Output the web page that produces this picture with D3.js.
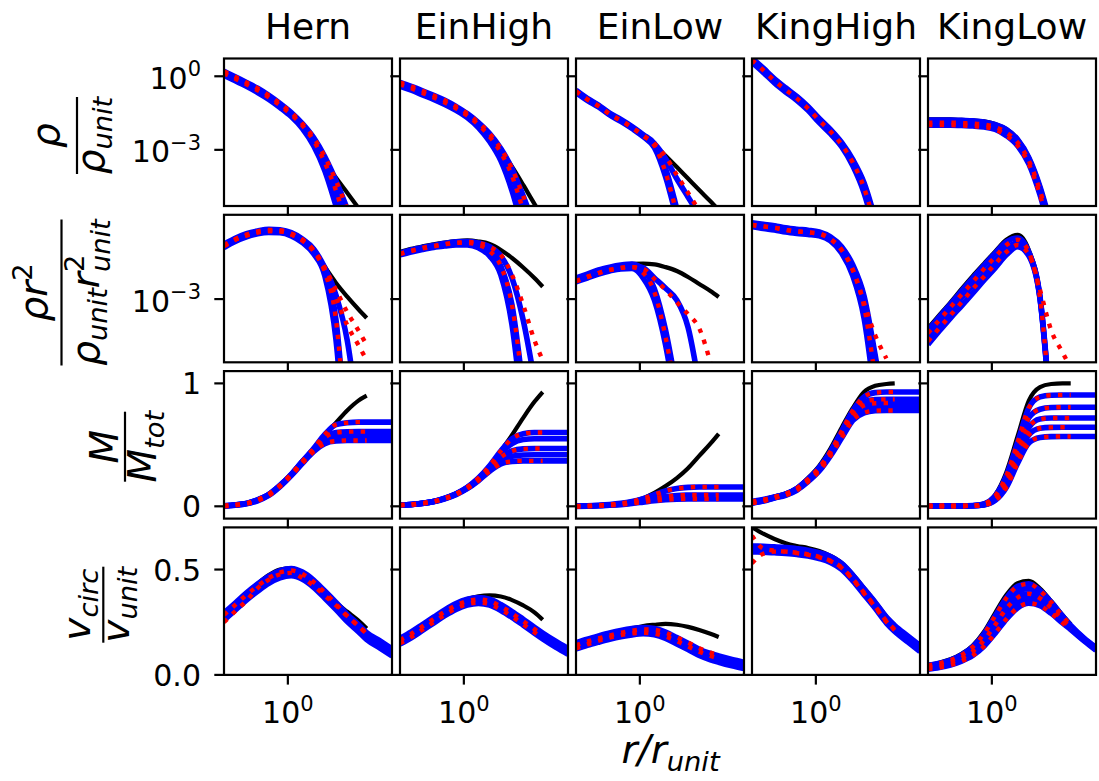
<!DOCTYPE html>
<html><head><meta charset="utf-8">
<script src="https://cdn.jsdelivr.net/npm/d3@7"></script>
<style>body{margin:0;background:#fff;} text{font-family:"DejaVu Sans",sans-serif;fill:#000;}</style>
</head><body><svg id="c" width="1099" height="781"></svg>
<script>
// ---------- data ----------
const rGrid = [0.269,0.339,0.427,0.537,0.676,0.851,1.072,1.349,1.698,2.138,2.692,3.388,4.266,5.06,6.65,8.51];
const columns = ["Hern","EinHigh","EinLow","KingHigh","KingLow"];
const xTickValues = [1];
const xTickExp = ["0"];

// Row 1: log10(rho/rho_unit)
const rhoHern = {
 black:[0.16,-0.06,-0.29,-0.53,-0.82,-1.15,-1.52,-1.97,-2.58,-3.48,-4.14,-4.75,-5.37,-5.82],
 blue:[[0.2,-0.02,-0.25,-0.49,-0.78,-1.11,-1.48,-1.93,-2.5,-3.28,-4.26,-5.41,-6.72],
       [0.12,-0.1,-0.33,-0.57,-0.86,-1.19,-1.56,-2.01,-2.62,-3.52,-4.67,-6.23],
       [0.04,-0.18,-0.41,-0.66,-0.94,-1.27,-1.64,-2.13,-2.83,-3.85,-5.29,-6.93]],
 red:[[0.12,-0.1,-0.33,-0.57,-0.86,-1.19,-1.56,-2.01,-2.62,-3.52,-4.67,-6.23],
      [0.2,-0.02,-0.25,-0.49,-0.78,-1.11,-1.48,-1.93,-2.5,-3.28,-4.26,-5.41,-6.72]]};
const rhoEinHigh = {
 black:[-0.29,-0.45,-0.64,-0.82,-1.02,-1.27,-1.56,-1.93,-2.42,-3.03,-3.69,-4.43,-5.2,-5.74],
 blue:[[-0.25,-0.41,-0.59,-0.78,-0.98,-1.23,-1.52,-1.89,-2.34,-2.95,-3.77,-4.88,-6.11],
       [-0.33,-0.49,-0.68,-0.86,-1.07,-1.31,-1.6,-1.97,-2.46,-3.11,-4.06,-5.49],
       [-0.41,-0.57,-0.76,-0.94,-1.15,-1.39,-1.68,-2.09,-2.66,-3.44,-4.67,-6.31]],
 red:[[-0.33,-0.49,-0.68,-0.86,-1.07,-1.31,-1.6,-1.97,-2.46,-3.11,-4.06,-5.49],
      [-0.25,-0.41,-0.59,-0.78,-0.98,-1.23,-1.52,-1.89,-2.34,-2.95,-3.77,-4.88,-6.11]]};
const rhoEinLow = {
 black:[-0.57,-0.9,-1.17,-1.5,-1.76,-2.05,-2.38,-2.8,-3.24,-3.7,-4.17,-4.64,-5.1,-5.45],
 blue:[[-0.57,-0.9,-1.17,-1.5,-1.76,-2.05,-2.38,-2.75,-3.77,-5.41],
       [-0.66,-0.98,-1.25,-1.58,-1.84,-2.13,-2.46,-2.91,-4.1,-5.82],
       [-0.61,-0.94,-1.21,-1.54,-1.8,-2.09,-2.42,-2.75,-3.36,-4.18,-4.92,-5.66]],
 red:[[-0.61,-0.94,-1.21,-1.54,-1.8,-2.09,-2.42,-2.83,-3.93,-5.62],
      [-0.61,-0.94,-1.21,-1.54,-1.8,-2.09,-2.42,-2.75,-3.28,-4.02,-4.75,-5.49]]};
const rhoKingHigh = {
 black:[0.74,0.33,-0.1,-0.47,-0.82,-1.23,-1.72,-2.17,-2.7,-3.4,-4.34,-5.82],
 blue:[[0.74,0.33,-0.1,-0.47,-0.82,-1.23,-1.72,-2.17,-2.7,-3.4,-4.34,-5.82],
       [0.66,0.25,-0.18,-0.55,-0.9,-1.31,-1.8,-2.25,-2.79,-3.52,-4.55,-6.11],
       [0.57,0.16,-0.27,-0.64,-0.98,-1.39,-1.89,-2.34,-2.87,-3.65,-4.75,-6.39]],
 red:[[0.66,0.25,-0.18,-0.55,-0.9,-1.31,-1.8,-2.25,-2.79,-3.52,-4.55,-6.11]]};
const rhoKingLow = {
 black:[-1.76,-1.76,-1.76,-1.78,-1.8,-1.84,-1.95,-2.15,-2.56,-3.3,-4.49,-6.1],
 blue:[[-1.78,-1.78,-1.78,-1.8,-1.82,-1.86,-1.97,-2.17,-2.58,-3.32,-4.51,-6.11],
       [-1.89,-1.89,-1.89,-1.91,-1.93,-1.97,-2.07,-2.3,-2.7,-3.44,-4.67,-6.31],
       [-1.99,-1.99,-1.99,-2.01,-2.03,-2.07,-2.17,-2.42,-2.83,-3.57,-4.84,-6.52]],
 red:[[-1.89,-1.89,-1.89,-1.91,-1.93,-1.97,-2.07,-2.3,-2.7,-3.44,-4.67,-6.31],
      [-1.99,-1.99,-1.99,-2.01,-2.03,-2.07,-2.17,-2.42,-2.83,-3.57,-4.84,-6.52]]};

// Row 2: log10(rho r^2 / rho_unit r_unit^2)
const rrHern = {
 black:[-1.44,-1.27,-1.14,-1.06,-1.01,-1.03,-1.11,-1.29,-1.57,-2.08,-2.54,-2.93,-3.29,-3.54],
 blue:[[-1.44,-1.27,-1.14,-1.06,-1.01,-1.03,-1.11,-1.29,-1.57,-2.11,-2.89,-4.17,-6.46],
       [-1.49,-1.31,-1.19,-1.1,-1.06,-1.07,-1.16,-1.33,-1.63,-2.23,-3.6,-7.31],
       [-1.53,-1.36,-1.23,-1.14,-1.1,-1.11,-1.2,-1.39,-1.71,-2.34,-4.17,-8.17]],
 red:[[-1.49,-1.31,-1.19,-1.1,-1.06,-1.07,-1.16,-1.33,-1.63,-2.23,-3.6,-7.31],
      [-1.46,-1.29,-1.16,-1.07,-1.03,-1.04,-1.13,-1.3,-1.6,-2.11,-2.74,-3.37,-3.89,-4.31],
      [-1.49,-1.31,-1.19,-1.1,-1.06,-1.07,-1.16,-1.33,-1.63,-2.17,-2.97,-3.74,-4.31,-4.74]]};
const rrEinHigh = {
 black:[-1.66,-1.57,-1.5,-1.44,-1.39,-1.35,-1.33,-1.36,-1.43,-1.6,-1.83,-2.1,-2.4,-2.65],
 blue:[[-1.69,-1.6,-1.53,-1.47,-1.41,-1.37,-1.36,-1.4,-1.51,-1.77,-2.4,-3.6,-5.31],
       [-1.71,-1.63,-1.56,-1.5,-1.44,-1.4,-1.4,-1.46,-1.63,-2.06,-3.17,-5.6],
       [-1.74,-1.66,-1.59,-1.53,-1.49,-1.46,-1.46,-1.54,-1.77,-2.31,-3.74,-6.46]],
 red:[[-1.71,-1.63,-1.56,-1.5,-1.44,-1.4,-1.4,-1.46,-1.63,-2.06,-3.17,-5.6],
      [-1.71,-1.63,-1.54,-1.49,-1.43,-1.4,-1.37,-1.4,-1.51,-1.74,-2.31,-3.17,-4.17,-4.74]]};
const rrEinLow = {
 black:[-2.43,-2.31,-2.2,-2.11,-2.04,-2.0,-1.99,-2.01,-2.09,-2.2,-2.37,-2.57,-2.77,-2.94],
 blue:[[-2.4,-2.29,-2.17,-2.09,-2.03,-2.0,-2.17,-2.71,-3.89,-5.6],
       [-2.51,-2.4,-2.29,-2.2,-2.14,-2.13,-2.4,-3.03,-4.31,-6.17],
       [-2.46,-2.34,-2.23,-2.14,-2.09,-2.04,-2.11,-2.4,-2.69,-3.03,-3.8,-5.46]],
 red:[[-2.49,-2.37,-2.26,-2.17,-2.11,-2.09,-2.26,-2.8,-4.09,-5.89],
      [-2.49,-2.37,-2.26,-2.17,-2.11,-2.09,-2.14,-2.43,-2.74,-3.09,-3.43,-3.83,-4.8]]};
const rrKingHigh = {
 black:[-0.83,-0.87,-0.91,-0.97,-1.01,-1.04,-1.09,-1.23,-1.51,-2.03,-2.91,-4.6,-6.46],
 blue:[[-0.83,-0.87,-0.91,-0.97,-1.01,-1.04,-1.09,-1.23,-1.51,-2.03,-2.91,-4.6,-6.46],
       [-0.89,-0.93,-0.97,-1.03,-1.07,-1.1,-1.14,-1.29,-1.6,-2.17,-3.2,-5.26],
       [-0.94,-0.99,-1.03,-1.09,-1.13,-1.16,-1.2,-1.34,-1.69,-2.34,-3.54,-5.89]],
 red:[[-0.89,-0.93,-0.97,-1.03,-1.07,-1.1,-1.14,-1.29,-1.6,-2.17,-3.2,-5.26],
      [-0.89,-0.93,-0.97,-1.03,-1.07,-1.1,-1.14,-1.29,-1.6,-2.17,-3.11,-4.03,-4.69]]};
const rrKingLow = {
 black:[-3.83,-3.46,-3.09,-2.71,-2.34,-1.99,-1.64,-1.31,-1.17,-1.6,-2.89,-6.46],
 blue:[[-3.89,-3.51,-3.14,-2.77,-2.4,-2.04,-1.69,-1.37,-1.26,-1.66,-2.94,-6.46],
       [-4.09,-3.71,-3.34,-2.97,-2.61,-2.26,-1.9,-1.56,-1.39,-1.71,-2.97,-6.51],
       [-4.29,-3.91,-3.54,-3.19,-2.83,-2.46,-2.11,-1.74,-1.51,-1.77,-3.0,-6.6]],
 red:[[-3.97,-3.6,-3.23,-2.87,-2.51,-2.14,-1.8,-1.46,-1.31,-1.66,-2.74,-3.89,-4.51,-4.97],
      [-4.2,-3.83,-3.46,-3.09,-2.71,-2.36,-2.0,-1.66,-1.46,-1.74,-2.97,-6.57]]};

// Row 3: M / M_tot
const mHern = {
 black:[0.004,0.012,0.024,0.053,0.097,0.17,0.26,0.365,0.47,0.585,0.68,0.78,0.86,0.9],
 blue:[[0.004,0.012,0.024,0.053,0.097,0.17,0.26,0.365,0.47,0.585,0.665,0.68,0.685,0.685,0.685,0.685],
       [0.004,0.012,0.024,0.053,0.097,0.17,0.26,0.365,0.462,0.56,0.6,0.607,0.608,0.608,0.608,0.608],
       [0.002,0.01,0.022,0.05,0.093,0.165,0.255,0.36,0.458,0.535,0.562,0.567,0.568,0.568,0.568,0.568],
       [0.0,0.008,0.02,0.045,0.088,0.16,0.25,0.35,0.445,0.51,0.531,0.535,0.535,0.535,0.535,0.535]],
 red:[[0.004,0.012,0.024,0.053,0.097,0.17,0.26,0.365,0.47,0.585,0.665,0.68,0.685,0.685],
      [0.004,0.012,0.024,0.053,0.097,0.17,0.26,0.365,0.462,0.56,0.6,0.607,0.608,0.608],
      [0.0,0.008,0.02,0.045,0.088,0.16,0.25,0.35,0.445,0.51,0.531,0.535,0.535,0.535]]};
const mEinHigh = {
 black:[0.01,0.015,0.025,0.04,0.066,0.102,0.155,0.23,0.33,0.45,0.58,0.72,0.85,0.93],
 blue:[[0.01,0.015,0.025,0.04,0.066,0.102,0.155,0.23,0.33,0.45,0.55,0.59,0.6,0.6,0.6,0.6],
       [0.01,0.015,0.025,0.04,0.065,0.1,0.152,0.225,0.32,0.43,0.51,0.543,0.55,0.55,0.55,0.55],
       [0.01,0.015,0.025,0.04,0.065,0.1,0.15,0.22,0.31,0.4,0.45,0.467,0.47,0.47,0.47,0.47],
       [0.01,0.015,0.024,0.039,0.063,0.098,0.147,0.215,0.3,0.375,0.408,0.418,0.42,0.42,0.42,0.42],
       [0.009,0.014,0.023,0.037,0.061,0.095,0.143,0.208,0.285,0.345,0.365,0.37,0.37,0.37,0.37,0.37]],
 red:[[0.01,0.015,0.025,0.04,0.066,0.102,0.155,0.23,0.33,0.45,0.55,0.59,0.6,0.6],
      [0.01,0.015,0.025,0.04,0.065,0.1,0.15,0.22,0.31,0.4,0.45,0.467,0.47,0.47],
      [0.009,0.014,0.023,0.037,0.061,0.095,0.143,0.208,0.285,0.345,0.365,0.37,0.37,0.37]]};
const mEinLow = {
 black:[0.002,0.004,0.008,0.014,0.024,0.04,0.065,0.11,0.165,0.23,0.31,0.41,0.51,0.59],
 blue:[[0.002,0.004,0.008,0.014,0.024,0.04,0.063,0.095,0.125,0.145,0.154,0.157,0.157,0.157,0.157,0.157],
       [0.0,0.002,0.006,0.011,0.019,0.031,0.047,0.065,0.079,0.088,0.091,0.092,0.092,0.092,0.092,0.092],
       [0.0,0.002,0.005,0.01,0.017,0.027,0.041,0.055,0.066,0.072,0.075,0.075,0.075,0.075,0.075,0.075],
       [-0.002,0.0,0.004,0.008,0.014,0.023,0.034,0.045,0.053,0.058,0.06,0.06,0.06,0.06,0.06,0.06]],
 red:[[0.002,0.004,0.008,0.014,0.024,0.04,0.063,0.095,0.125,0.145,0.154,0.157,0.157,0.157],
      [0.0,0.002,0.006,0.011,0.019,0.031,0.047,0.065,0.079,0.088,0.091,0.092,0.092,0.092],
      [-0.002,0.0,0.004,0.008,0.014,0.023,0.034,0.045,0.053,0.058,0.06,0.06,0.06,0.06]]};
const mKingHigh = {
 black:[0.03,0.055,0.08,0.105,0.15,0.23,0.33,0.47,0.64,0.8,0.93,0.98,0.995,1.0],
 blue:[[0.04,0.055,0.075,0.1,0.145,0.22,0.315,0.445,0.61,0.78,0.89,0.925,0.93,0.93,0.93,0.93],
       [0.035,0.05,0.075,0.1,0.145,0.22,0.31,0.44,0.6,0.76,0.85,0.868,0.87,0.87,0.87,0.87],
       [0.03,0.047,0.072,0.097,0.14,0.213,0.302,0.43,0.585,0.74,0.82,0.838,0.84,0.84,0.84,0.84],
       [0.028,0.045,0.07,0.094,0.136,0.207,0.295,0.42,0.57,0.72,0.79,0.808,0.81,0.81,0.81,0.81],
       [0.025,0.042,0.067,0.09,0.13,0.2,0.287,0.41,0.555,0.7,0.76,0.778,0.78,0.78,0.78,0.78]],
 red:[[0.04,0.055,0.075,0.1,0.145,0.22,0.315,0.445,0.61,0.78,0.89,0.925,0.93,0.93],
      [0.035,0.05,0.075,0.1,0.145,0.22,0.31,0.44,0.6,0.76,0.85,0.868,0.87,0.87],
      [0.03,0.047,0.072,0.097,0.14,0.213,0.302,0.43,0.585,0.74,0.82,0.838,0.84,0.84],
      [0.025,0.042,0.067,0.09,0.13,0.2,0.287,0.41,0.555,0.7,0.76,0.778,0.78,0.78]]};
const mKingLow = {
 black:[0.003,0.003,0.003,0.003,0.007,0.023,0.095,0.28,0.57,0.86,0.97,0.995,1.0,1.0],
 blue:[[0.003,0.003,0.003,0.003,0.006,0.02,0.085,0.25,0.52,0.8,0.89,0.904,0.906,0.906,0.906,0.906],
       [0.003,0.003,0.003,0.003,0.005,0.017,0.072,0.22,0.47,0.72,0.79,0.804,0.806,0.806,0.806,0.806],
       [0.003,0.003,0.003,0.003,0.005,0.015,0.062,0.195,0.425,0.64,0.71,0.718,0.719,0.719,0.719,0.719],
       [0.003,0.003,0.003,0.003,0.004,0.013,0.055,0.175,0.39,0.58,0.635,0.642,0.643,0.643,0.643,0.643],
       [0.003,0.003,0.003,0.003,0.004,0.011,0.048,0.155,0.35,0.515,0.56,0.567,0.568,0.568,0.568,0.568]],
 red:[[0.003,0.003,0.003,0.003,0.006,0.02,0.085,0.25,0.52,0.8,0.89,0.904,0.906,0.906],
      [0.003,0.003,0.003,0.003,0.005,0.017,0.072,0.22,0.47,0.72,0.79,0.804,0.806,0.806],
      [0.003,0.003,0.003,0.003,0.005,0.015,0.062,0.195,0.425,0.64,0.71,0.718,0.719,0.719],
      [0.003,0.003,0.003,0.003,0.004,0.013,0.055,0.175,0.39,0.58,0.635,0.642,0.643,0.643],
      [0.003,0.003,0.003,0.003,0.004,0.011,0.048,0.155,0.35,0.515,0.56,0.567,0.568,0.568]]};

// Row 4: v_circ / v_unit
const vHern = {
 black:[0.296,0.338,0.386,0.433,0.474,0.5,0.507,0.486,0.443,0.393,0.343,0.3,0.258,0.22],
 blue:[[0.294,0.341,0.389,0.431,0.469,0.495,0.505,0.488,0.45,0.398,0.344,0.287,0.239,0.201,0.161,0.124],
       [0.277,0.324,0.372,0.414,0.452,0.478,0.488,0.471,0.433,0.381,0.327,0.27,0.222,0.184,0.144,0.107],
       [0.26,0.307,0.355,0.397,0.435,0.461,0.471,0.454,0.416,0.364,0.31,0.253,0.205,0.167,0.127,0.09]],
 red:[[0.25,0.302,0.352,0.412,0.452,0.477,0.484,0.46,0.423,0.376,0.33,0.279,0.232,0.197],
      [0.285,0.332,0.38,0.422,0.46,0.486,0.496,0.479,0.441,0.39,0.336,0.28,0.232,0.194]]};
const vEinHigh = {
 black:[0.17,0.2,0.235,0.27,0.305,0.337,0.36,0.373,0.377,0.372,0.355,0.33,0.297,0.262],
 blue:[[0.174,0.204,0.239,0.274,0.309,0.339,0.359,0.367,0.359,0.334,0.301,0.264,0.226,0.199,0.159,0.126],
       [0.16,0.19,0.225,0.26,0.295,0.325,0.345,0.353,0.345,0.32,0.287,0.25,0.212,0.185,0.145,0.112],
       [0.146,0.176,0.211,0.246,0.281,0.311,0.331,0.339,0.331,0.306,0.273,0.236,0.198,0.171,0.131,0.098]],
 red:[[0.15,0.18,0.215,0.25,0.285,0.315,0.335,0.343,0.335,0.31,0.277,0.24,0.202,0.176],
      [0.165,0.195,0.23,0.265,0.3,0.33,0.35,0.358,0.35,0.325,0.292,0.255,0.217,0.19]]};
const vEinLow = {
 black:[0.15,0.166,0.181,0.195,0.208,0.22,0.232,0.238,0.242,0.238,0.228,0.213,0.195,0.18],
 blue:[[0.153,0.17,0.185,0.199,0.211,0.22,0.225,0.22,0.203,0.177,0.15,0.122,0.102,0.09,0.073,0.06],
       [0.138,0.155,0.17,0.184,0.196,0.205,0.21,0.205,0.188,0.162,0.135,0.107,0.087,0.075,0.058,0.045],
       [0.123,0.14,0.155,0.169,0.181,0.19,0.195,0.19,0.173,0.147,0.12,0.092,0.072,0.06,0.043,0.03]],
 red:[[0.125,0.145,0.162,0.177,0.189,0.197,0.2,0.196,0.182,0.16,0.135,0.11,0.09,0.078],
      [0.14,0.158,0.173,0.187,0.2,0.21,0.216,0.214,0.2,0.178,0.153,0.127,0.106,0.093]]};
const vKingHigh = {
 black:[0.7,0.67,0.645,0.625,0.612,0.602,0.588,0.565,0.532,0.477,0.412,0.347,0.277,0.237],
 blue:[[0.612,0.61,0.608,0.604,0.599,0.592,0.58,0.562,0.529,0.474,0.409,0.344,0.274,0.234,0.184,0.139],
       [0.598,0.596,0.594,0.59,0.585,0.578,0.566,0.548,0.515,0.46,0.395,0.33,0.26,0.22,0.17,0.125],
       [0.584,0.582,0.58,0.576,0.571,0.564,0.552,0.534,0.501,0.446,0.381,0.316,0.246,0.206,0.156,0.111]],
 red:[[0.66,0.6,0.59,0.585,0.58,0.572,0.56,0.542,0.51,0.455,0.39,0.325,0.255,0.215],
      [0.53,0.575,0.585,0.585,0.578,0.57,0.558,0.54,0.508,0.452,0.387,0.322,0.252,0.212]]};
const vKingLow = {
 black:[0.048,0.058,0.074,0.1,0.14,0.205,0.295,0.38,0.435,0.446,0.41,0.35,0.285,0.24],
 blue:[[0.045,0.055,0.07,0.095,0.133,0.195,0.28,0.365,0.42,0.432,0.4,0.345,0.28,0.235,0.175,0.13],
       [0.041,0.051,0.065,0.088,0.123,0.18,0.258,0.34,0.393,0.41,0.383,0.333,0.272,0.23,0.172,0.127],
       [0.036,0.045,0.059,0.08,0.112,0.165,0.238,0.315,0.367,0.385,0.363,0.318,0.263,0.225,0.168,0.124],
       [0.031,0.04,0.053,0.072,0.102,0.15,0.218,0.29,0.342,0.362,0.345,0.305,0.255,0.22,0.165,0.12],
       [0.027,0.035,0.047,0.065,0.092,0.136,0.198,0.265,0.318,0.34,0.328,0.292,0.247,0.215,0.162,0.117]],
 red:[[0.045,0.055,0.07,0.095,0.133,0.195,0.28,0.365,0.42,0.432,0.4,0.345,0.28,0.235],
      [0.036,0.045,0.059,0.08,0.112,0.165,0.238,0.315,0.367,0.385,0.363,0.318,0.263,0.225],
      [0.027,0.035,0.047,0.065,0.092,0.136,0.198,0.265,0.318,0.34,0.328,0.292,0.247,0.215]]};

const rowPanels = [
  [rhoHern, rhoEinHigh, rhoEinLow, rhoKingHigh, rhoKingLow],
  [rrHern, rrEinHigh, rrEinLow, rrKingHigh, rrKingLow],
  [mHern, mEinHigh, mEinLow, mKingHigh, mKingLow],
  [vHern, vEinHigh, vEinLow, vKingHigh, vKingLow]];
const rowIsLogData = [true, true, false, false];
const yTicks = [[1, 0.001], [0.001], [0, 1], [0, 0.5]];
const yTickLabels = [[["10","0"],["10","\u22123"]], [["10","\u22123"]], [["0"],["1"]], [["0.0"],["0.5"]]];

// ---------- layout ----------
const svg = d3.select("#c");
svg.append("rect").attr("width",1099).attr("height",781).attr("fill","#fff");
const colLeft = [224,400,576,752,928], panelW = 168;
const rowTop = [58.5,214.8,371.1,527.4], panelH = 147.5;
const yDomains = [[Math.pow(10,-5.29), Math.pow(10,0.725)], [Math.pow(10,-4.8), Math.pow(10,-0.6)], [-0.1,1.1], [0,0.7]];
const lw = {black:4.2, blue:5.6, red:4.4};
const defs = svg.append("defs");

rowPanels.forEach((panels, ri) => {
  const isLog = rowIsLogData[ri];
  const y = (isLog ? d3.scaleLog() : d3.scaleLinear()).domain(yDomains[ri]).range([rowTop[ri]+panelH, rowTop[ri]]);
  panels.forEach((pd, ci) => {
    const x = d3.scaleLog().domain([rGrid[0], rGrid[rGrid.length-1]]).range([colLeft[ci], colLeft[ci]+panelW]);
    const id = `clip${ri}_${ci}`;
    defs.append("clipPath").attr("id", id).append("rect")
      .attr("x", colLeft[ci]).attr("y", rowTop[ri]).attr("width", panelW).attr("height", panelH);
    const g = svg.append("g").attr("clip-path", `url(#${id})`);
    const line = d3.line().x(d => x(d[0])).y(d => y(d[1])).curve(d3.curveMonotoneX);
    const pts = arr => arr.map((v,i) => [rGrid[i], isLog ? Math.pow(10, v) : v]);
    g.append("path").attr("d", line(pts(pd.black))).attr("fill","none").attr("stroke","#000").attr("stroke-width", lw.black);
    pd.blue.forEach(b => g.append("path").attr("d", line(pts(b))).attr("fill","none").attr("stroke","#0000ff").attr("stroke-width", lw.blue).attr("stroke-linejoin","round"));
    pd.red.forEach(r => g.append("path").attr("d", line(pts(r))).attr("fill","none").attr("stroke","#ff0000").attr("stroke-width", lw.red).attr("stroke-dasharray","4.4,7.3"));
    svg.append("rect").attr("x", colLeft[ci]).attr("y", rowTop[ri]).attr("width", panelW).attr("height", panelH)
      .attr("fill","none").attr("stroke","#000").attr("stroke-width",2.2);
    xTickValues.forEach((tv, ti) => {
      const xp = x(tv), yb = rowTop[ri]+panelH;
      svg.append("line").attr("x1",xp).attr("x2",xp).attr("y1",yb).attr("y2",yb+9.7).attr("stroke","#000").attr("stroke-width",2.2);
      if (ri === 3) {
        const t = svg.append("text").attr("x", xp).attr("y", 723).attr("text-anchor","middle").attr("font-size",30);
        t.append("tspan").text("10");
        t.append("tspan").attr("font-size",21).attr("dy",-12.5).text(xTickExp[ti]);
      }
    });
    yTicks[ri].forEach((tv, ti) => {
      const yp = y(tv);
      svg.append("line").attr("x1",colLeft[ci]-9.7).attr("x2",colLeft[ci]).attr("y1",yp).attr("y2",yp).attr("stroke","#000").attr("stroke-width",2.2);
      if (ci === 0) {
        const lab = yTickLabels[ri][ti];
        const t = svg.append("text").attr("x", colLeft[0]-23).attr("text-anchor","end").attr("font-size",30)
          .attr("y", yp + (lab.length > 1 ? 12.5 : 11));
        t.append("tspan").text(lab[0]);
        if (lab.length > 1) t.append("tspan").attr("font-size",21).attr("dy",-12.5).text(lab[1]);
      }
    });
  });
});

columns.forEach((c, ci) => {
  svg.append("text").attr("x", colLeft[ci]+panelW/2).attr("y", 39).attr("text-anchor","middle").attr("font-size",36).text(c);
});

const xl = svg.append("text").attr("x", 621.5).attr("y", 763).attr("font-size",39).attr("font-style","italic");
xl.append("tspan").text("r/r");
xl.append("tspan").attr("font-size",27.3).attr("dy",8).text("unit");

function layoutRow(g, pieces, base) {
  let u = 0, prevStart = 0; const items = [];
  pieces.forEach(p => {
    const t = g.append("text").attr("font-size", p.fs).attr("font-style", p.up ? "normal" : "italic")
      .attr("y", base + (p.sh || 0)).text(p.t);
    const w = t.node().getComputedTextLength();
    const start = p.stack ? prevStart : u;
    items.push([t, start]);
    u = Math.max(u, start + w);
    prevStart = start;
  });
  items.forEach(([t, s]) => t.attr("x", s - u/2));
}
function fracLabel(cx, cy, barLen, num, numBase, den, denBase) {
  const g = svg.append("g").attr("transform", `translate(${cx},${cy}) rotate(-90)`);
  layoutRow(g, num, numBase);
  g.append("line").attr("x1",-barLen/2).attr("x2",barLen/2).attr("y1",0).attr("y2",0).attr("stroke","#000").attr("stroke-width",2.2);
  layoutRow(g, den, denBase);
}
const F = 39, S = 27.3;
fracLabel(77, 135.5, 77, [{t:"\u03c1",fs:F}], -18, [{t:"\u03c1",fs:F},{t:"unit",fs:S,sh:8}], 27.3);
fracLabel(61.5, 292.5, 146, [{t:"\u03c1",fs:F},{t:"r",fs:F},{t:"2",fs:S,sh:-15,up:true}], -15,
  [{t:"\u03c1",fs:F},{t:"unit",fs:S,sh:8},{t:"r",fs:F},{t:"2",fs:S,sh:-15,up:true},{t:"unit",fs:S,sh:11,stack:true}], 37);
fracLabel(125, 446.7, 70, [{t:"M",fs:F}], -7, [{t:"M",fs:F},{t:"tot",fs:S,sh:8}], 31.4);
fracLabel(103.3, 604.7, 76, [{t:"v",fs:F},{t:"circ",fs:S,sh:8}], -13.5, [{t:"v",fs:F},{t:"unit",fs:S,sh:8}], 26);
</script>
</body></html>
